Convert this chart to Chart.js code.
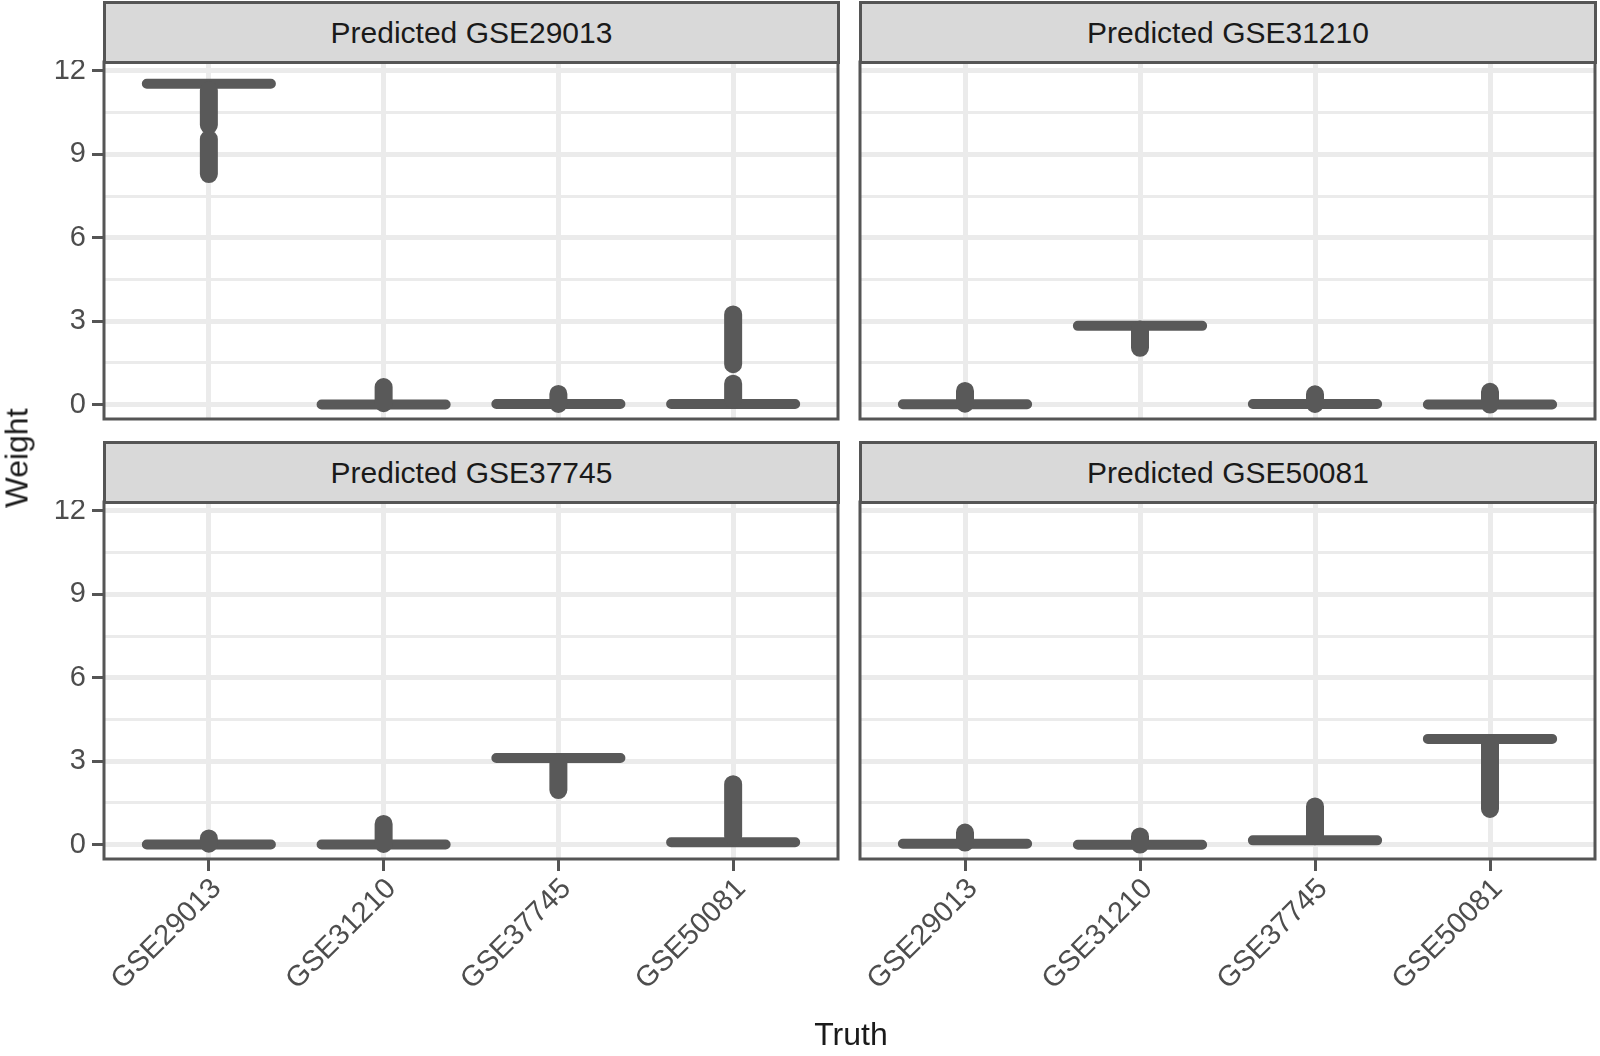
<!DOCTYPE html>
<html>
<head>
<meta charset="utf-8">
<script src="https://cdn.jsdelivr.net/npm/chart.js@4.4.1/dist/chart.umd.min.js"></script>
<style>
  html, body { margin: 0; padding: 0; background: #fff; }
  body { width: 1600px; height: 1056px; position: relative; overflow: hidden;
         font-family: "Liberation Sans", Arial, sans-serif; }
  canvas { position: absolute; }
  .strip { position: absolute; box-sizing: border-box; height: 63px; border: 3px solid #555;
           background: #D9D9D9; color: #1A1A1A; font-size: 30px;
           display: flex; align-items: center; justify-content: center; white-space: nowrap; }
  .title { position: absolute; color: #1A1A1A; font-size: 32px; white-space: nowrap;
           transform: translate(-50%, -50%); }
</style>
</head>
<body>
<canvas id="pTL" width="842" height="361" style="left:0;top:60px"></canvas>
<canvas id="pTR" width="756" height="361" style="left:842px;top:60px"></canvas>
<canvas id="pBL" width="842" height="556" style="left:0;top:500px"></canvas>
<canvas id="pBR" width="756" height="556" style="left:842px;top:500px"></canvas>

<div class="strip" id="sTL" style="left:103px;top:1px;width:737px"></div>
<div class="strip" id="sTR" style="left:859px;top:1px;width:738px"></div>
<div class="strip" id="sBL" style="left:103px;top:441px;width:737px"></div>
<div class="strip" id="sBR" style="left:859px;top:441px;width:738px"></div>

<div class="title" style="left:17px;top:458px;transform:translate(-50%,-50%) rotate(-90deg)">Weight</div>
<div class="title" style="left:851px;top:1034px">Truth</div>

<script>
const categories = ['GSE29013', 'GSE31210', 'GSE37745', 'GSE50081'];
const panelTitles = ['Predicted GSE29013', 'Predicted GSE31210', 'Predicted GSE37745', 'Predicted GSE50081'];
const yMajorTicks = [0, 3, 6, 9, 12];
const yMinorTicks = [1.5, 4.5, 7.5, 10.5];

// boxes are squashed flat (q1 = median = q3), so one value per box
const medianPredGSE29013 = [11.54, 0.0, 0.02, 0.02];
const medianPredGSE31210 = [0.01, 2.83, 0.02, 0.0];
const medianPredGSE37745 = [0.0, 0.0, 3.11, 0.08];
const medianPredGSE50081 = [0.03, -0.01, 0.15, 3.8];

// outlier streaks per category: [lowest point, highest point]
const outliersPredGSE29013 = [[[10.05, 11.3], [8.29, 9.55]], [[0.05, 0.63]], [[0.02, 0.38]], [[1.45, 3.24], [0.18, 0.75]]];
const outliersPredGSE31210 = [[[0.03, 0.49]], [[2.04, 2.7]], [[0.02, 0.37]], [[0.0, 0.46]]];
const outliersPredGSE37745 = [[[0.03, 0.22]], [[0.02, 0.74]], [[1.96, 2.95]], [[0.3, 2.17]]];
const outliersPredGSE50081 = [[[0.07, 0.43]], [[0.0, 0.29]], [[0.3, 1.37]], [[1.28, 3.6]]];

const MARK = '#595959';
const GRID = '#EBEBEB';
const AXIS = '#555555';
const TEXT = '#4D4D4D';
const BOX_HALF = 0.355;
const TICK_FONT = 29;

Chart.defaults.font.family = '"Liberation Sans", Arial, sans-serif';

function boxPoints(medians) {
  const pts = [];
  medians.forEach((m, i) => {
    pts.push({ x: i + 1 - BOX_HALF, y: m }, { x: i + 1 + BOX_HALF, y: m }, { x: i + 1, y: null });
  });
  return pts;
}

function streakPoints(outliers) {
  const pts = [];
  outliers.forEach((runs, i) => {
    runs.forEach(([lo, hi]) => {
      pts.push({ x: i + 1, y: lo }, { x: i + 1, y: hi }, { x: i + 1, y: null });
    });
  });
  return pts;
}

const panelBorder = {
  id: 'panelBorder',
  afterDraw(chart) {
    const { ctx, chartArea: a } = chart;
    ctx.save();
    ctx.strokeStyle = AXIS;
    ctx.lineWidth = 3;
    ctx.strokeRect(a.left, a.top, a.right - a.left, a.bottom - a.top);
    ctx.restore();
  }
};

function drawPanel(id, medians, outliers, withX, withY) {
  const isMajor = v => yMajorTicks.includes(v);
  new Chart(document.getElementById(id), {
    type: 'line',
    data: {
      datasets: [
        { data: streakPoints(outliers), borderColor: MARK, borderWidth: 18, borderCapStyle: 'round',
          pointRadius: 0, spanGaps: false },
        { data: boxPoints(medians), borderColor: MARK, borderWidth: 10, borderCapStyle: 'round',
          pointRadius: 0, spanGaps: false }
      ]
    },
    options: {
      responsive: false,
      animation: false,
      events: [],
      layout: { padding: { top: 2, right: withY ? 4 : 3, bottom: withX ? 0 : 2, left: 0 } },
      plugins: { legend: { display: false }, tooltip: { enabled: false } },
      scales: {
        x: {
          type: 'linear', min: 0.4, max: 4.6,
          afterBuildTicks: s => { s.ticks = categories.map((c, i) => ({ value: i + 1 })); },
          afterFit: s => { s.height = withX ? 197 : 0; s.paddingLeft = 0; s.paddingRight = 0; },
          border: { display: false },
          grid: { color: GRID, lineWidth: 5, drawTicks: withX, tickLength: 12, tickWidth: 3, tickColor: AXIS },
          ticks: {
            display: withX, autoSkip: false, minRotation: 45, maxRotation: 45, padding: 1, labelOffset: 8,
            color: TEXT, font: { size: TICK_FONT },
            callback: v => categories[Math.round(v) - 1]
          }
        },
        y: {
          min: -0.52, max: 12.32,
          afterBuildTicks: s => {
            s.ticks = [...yMajorTicks, ...yMinorTicks].sort((a, b) => a - b).map(v => ({ value: v }));
          },
          afterFit: s => { s.width = withY ? 104 : 18; s.paddingTop = 0; s.paddingBottom = 0; },
          border: { display: false },
          grid: {
            color: GRID,
            lineWidth: c => (c.tick && isMajor(c.tick.value)) ? 5 : 3,
            drawTicks: withY, tickLength: 12, tickWidth: 3,
            tickColor: c => (c.tick && isMajor(c.tick.value)) ? AXIS : 'rgba(0,0,0,0)'
          },
          ticks: {
            display: withY, padding: 6, color: TEXT, font: { size: TICK_FONT },
            callback: v => isMajor(v) ? String(v) : ''
          }
        }
      }
    },
    plugins: [panelBorder]
  });
}

['sTL', 'sTR', 'sBL', 'sBR'].forEach((id, i) => {
  document.getElementById(id).textContent = panelTitles[i];
});

drawPanel('pTL', medianPredGSE29013, outliersPredGSE29013, false, true);
drawPanel('pTR', medianPredGSE31210, outliersPredGSE31210, false, false);
drawPanel('pBL', medianPredGSE37745, outliersPredGSE37745, true, true);
drawPanel('pBR', medianPredGSE50081, outliersPredGSE50081, true, false);
</script>
</body>
</html>
